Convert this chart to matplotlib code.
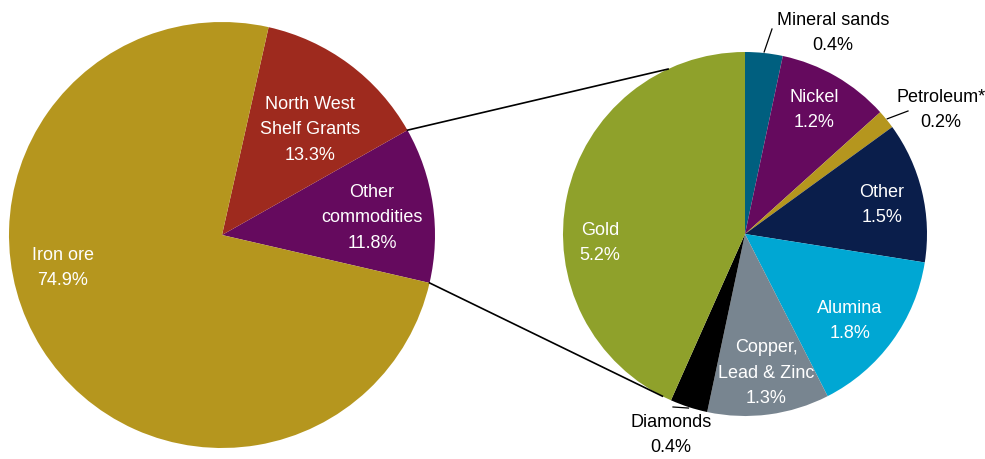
import numpy as np
import matplotlib.pyplot as plt
from matplotlib import font_manager

# royalty shares, whole mix and breakdown of "other commodities"
main_labels = ['Other\ncommodities', 'North West\nShelf Grants', 'Iron ore']
main_values = [11.8, 13.3, 74.9]
main_colors = ['#650A5E', '#9E2A1E', '#B5961E']

sub_labels = ['Mineral sands', 'Nickel', 'Petroleum*', 'Other', 'Alumina',
              'Copper,\nLead & Zinc', 'Diamonds', 'Gold']
sub_values = [0.4, 1.2, 0.2, 1.5, 1.8, 1.3, 0.4, 5.2]
sub_colors = ['#005F7F', '#650A5E', '#B5961E', '#0A1E4B', '#00A7D3',
              '#788590', '#000000', '#8FA12B']

names = {f.name for f in font_manager.fontManager.ttflist}
fam = ['Liberation Sans Narrow', 'DejaVu Sans'] if 'Liberation Sans Narrow' in names else ['Liberation Sans', 'DejaVu Sans']
plt.rcParams['font.family'] = fam

W, H = 985, 459
fig = plt.figure(figsize=(W / 100, H / 100), dpi=100)
ax = fig.add_axes([0, 0, 1, 1])

c1, r1 = (222, 224), 213
c2, r2 = (745, 225), 182
start1 = -13

ax.pie(main_values, colors=main_colors, center=c1, radius=r1, startangle=start1,
       counterclock=True, wedgeprops=dict(linewidth=0), frame=True)
ax.pie(sub_values, colors=sub_colors, center=c2, radius=r2, startangle=90,
       counterclock=False, wedgeprops=dict(linewidth=0), frame=True)
ax.set_xlim(0, W)
ax.set_ylim(0, H)
ax.set_aspect('equal')
ax.axis('off')

def pt(c, r, deg):
    a = np.deg2rad(deg)
    return c[0] + r * np.cos(a), c[1] + r * np.sin(a)

# connector lines between the "other commodities" wedge and the breakdown pie
a_top = start1 + main_values[0] / sum(main_values) * 360
p1 = pt(c1, r1, a_top)
p2 = pt(c2, r2, 115)
ax.plot([p1[0], p2[0]], [p1[1], p2[1]], color='black', lw=1.2)
p1 = pt(c1, r1, start1)
p2 = pt(c2, r2, 243)
ax.plot([p1[0], p2[0]], [p1[1], p2[1]], color='black', lw=1.2)

fs = 13
ls = 1.65

def y(v):
    return H - v

# labels inside the main pie
main_pos = [(372, 218), (310, 130), (63, 268)]
for lab, val, (x, yy) in zip(main_labels, main_values, main_pos):
    ax.text(x, y(yy), f'{lab}\n{val}%', color='white', fontsize=fs,
            ha='center', va='center', linespacing=ls)

# labels of the breakdown pie (inside: white, outside: black with leader)
sub_pos = {'Nickel': (814, 110), 'Other': (882, 205), 'Alumina': (850, 321),
           'Copper,\nLead & Zinc': (766, 373), 'Gold': (600, 243)}
outside = {'Mineral sands': ((833, 33), (772, 29)),
           'Petroleum*': ((941, 110), (908, 111)),
           'Diamonds': ((671, 435), (673, 407))}

tot = sum(sub_values)
ang = 90
for lab, val in zip(sub_labels, sub_values):
    span = val / tot * 360
    mid = ang - span / 2
    ang -= span
    if lab in sub_pos:
        x, yy = sub_pos[lab]
        ax.text(x, y(yy), f'{lab}\n{val}%', color='white', fontsize=fs,
                ha='center', va='center', linespacing=ls)
    else:
        (x, yy), (ex, ey) = outside[lab]
        ax.text(x, y(yy), f'{lab}\n{val}%', color='black', fontsize=fs,
                ha='center', va='center', linespacing=ls)
        sx, sy = pt(c2, r2 + 1, mid)
        ax.plot([sx, ex], [sy, y(ey)], color='black', lw=0.9)

fig.savefig('out.png', dpi=100)
